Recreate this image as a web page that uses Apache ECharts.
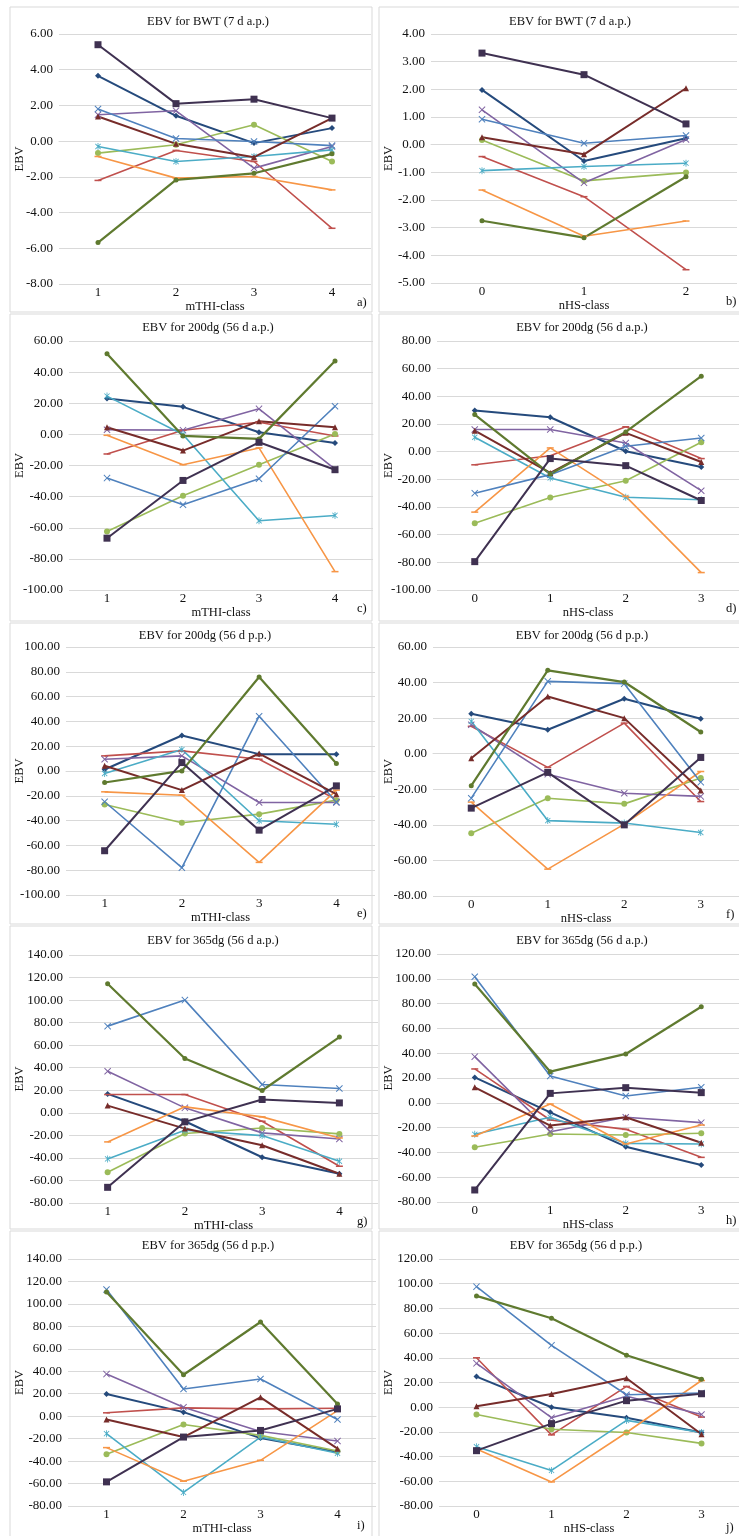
<!DOCTYPE html>
<html>
<head>
<meta charset="utf-8">
<script src="https://cdn.jsdelivr.net/npm/echarts@6/dist/echarts.min.js"></script>
<style>
  body { margin: 0; background: #fff; }
  #main { width: 739px; height: 1536px; }
</style>
</head>
<body>
<div id="main"></div>
<script>
// x categories
var thiClasses = ['1', '2', '3', '4'];
var hsClasses3 = ['0', '1', '2'];
var hsClasses4 = ['0', '1', '2', '3'];

// line order: navy, red, lightGreen, purple, cyan, orange, steelBlue, darkRed, darkGreen, darkPurple
var lineNames = ['navy', 'red', 'lightGreen', 'purple', 'cyan', 'orange', 'steelBlue', 'darkRed', 'darkGreen', 'darkPurple'];

// a) EBV for BWT (7 d a.p.) by mTHI-class
var bwtApThi = [
  [3.66, 1.42, -0.11, 0.73],
  [-2.2, -0.52, -1.14, -4.88],
  [-0.67, -0.2, 0.92, -1.14],
  [1.48, 1.7, -1.51, -0.3],
  [-0.3, -1.14, -0.86, -0.49],
  [-0.86, -2.07, -1.98, -2.73],
  [1.8, 0.15, -0.02, -0.25],
  [1.38, -0.15, -0.9, 1.29],
  [-5.68, -2.17, -1.8, -0.71],
  [5.4, 2.1, 2.35, 1.29]
];
// b) EBV for BWT (7 d a.p.) by nHS-class
var bwtApHs = [
  [1.98, -0.59, 0.23],
  [-0.43, -1.88, -4.52],
  [0.17, -1.31, -1.01],
  [1.26, -1.38, 0.19],
  [-0.94, -0.79, -0.67],
  [-1.64, -3.31, -2.76],
  [0.92, 0.05, 0.33],
  [0.27, -0.35, 2.04],
  [-2.75, -3.36, -1.16],
  [3.31, 2.53, 0.75]
];
// c) EBV for 200dg (56 d a.p.) by mTHI-class
var d200ApThi = [
  [23.1, 17.7, 1.4, -5.5],
  [-12.6, 2.7, 7.8, -1],
  [-62.4, -39.4, -19.5, 0.3],
  [3, 2.7, 16.4, -22.3],
  [24.6, -0.1, -55.5, -52.1],
  [-0.6, -19.5, -8.7, -88.2],
  [-28.1, -45.2, -28.5, 18.1],
  [4.6, -10.4, 8.5, 4.6],
  [51.8, -1, -2.9, 47.1],
  [-66.7, -29.6, -5.1, -22.7]
];
// d) EBV for 200dg (56 d a.p.) by nHS-class
var d200ApHs = [
  [29.7, 24.9, 0.3, -11.1],
  [-9.5, -3, 18, -5],
  [-51.7, -33.1, -21, 6.8],
  [16, 16, 6.3, -28.2],
  [10.4, -19, -33, -34.8],
  [-43.7, 2.7, -32.3, -87.4],
  [-30, -16.6, 3.9, 9.9],
  [15.2, -15.4, 13.6, -7.5],
  [26.8, -16.2, 14.3, 54.6],
  [-79.5, -5, -10.1, -35.3]
];
// e) EBV for 200dg (56 d p.p.) by mTHI-class
var d200PpThi = [
  [1.2, 28.6, 13.6, 13.6],
  [12.2, 16.2, 9.5, -23],
  [-27, -41.7, -34.8, -23.5],
  [9.5, 12.2, -25.4, -25.4],
  [-2, 17.3, -40.1, -43],
  [-16.8, -19.5, -73.7, -15.4],
  [-24.8, -78, 44.2, -25],
  [4.2, -15.4, 14.1, -18.7],
  [-9.3, 0.1, 75.8, 6],
  [-64.3, 6.8, -47.7, -12]
];
// f) EBV for 200dg (56 d p.p.) by nHS-class
var d200PpHs = [
  [22.5, 13.5, 30.9, 19.7],
  [15.4, -7.7, 17.2, -26.9],
  [-44.7, -25, -28.2, -13.7],
  [16.3, -11.5, -22.2, -24],
  [18.2, -37.6, -39, -44.3],
  [-27.2, -64.9, -39.6, -10],
  [-25, 40.7, 39.4, -16],
  [-2.5, 32.2, 20, -20.7],
  [-18, 46.9, 40.3, 12.2],
  [-30.6, -10.5, -40, -2.1]
];
// g) EBV for 365dg (56 d a.p.) by mTHI-class
var d365ApThi = [
  [16.8, -7.5, -39.4, -54],
  [16.2, 16.2, -7.5, -47.4],
  [-52.8, -18.4, -13.4, -18.7],
  [36.9, 4.4, -17.8, -23.2],
  [-40.9, -15.5, -20.2, -43],
  [-25.8, 5.3, -3.6, -22.3],
  [76.9, 100, 25.1, 21.6],
  [6.4, -14, -28.8, -54],
  [114.5, 48.2, 19.8, 67.2],
  [-66.1, -8, 11.8, 8.8]
];
// h) EBV for 365dg (56 d a.p.) by nHS-class
var d365ApHs = [
  [20.5, -7.7, -35.4, -50.2],
  [27.3, -13.9, -21.4, -44],
  [-35.9, -25.2, -26, -24.6],
  [37.2, -23.3, -11.7, -16],
  [-25.4, -11.7, -32.7, -33.2],
  [-26.8, -1, -33.2, -17.9],
  [101.7, 21.6, 5.5, 12.5],
  [12.5, -18.4, -11.7, -32.2],
  [95.8, 25.1, 39.4, 77.5],
  [-70.3, 7.6, 12.2, 8.2]
];
// i) EBV for 365dg (56 d p.p.) by mTHI-class
var d365PpThi = [
  [19.8, 3.6, -19.5, -31.9],
  [3, 7.4, 6.5, 7.1],
  [-34, -7.4, -17.1, -31],
  [37.5, 8, -13.6, -22.1],
  [-15.6, -67.9, -18.6, -33],
  [-28, -57.9, -39.3, 5],
  [112.8, 24.2, 33.1, -2.9],
  [-3, -18.6, 16.8, -28.9],
  [110.5, 36.9, 83.9, 10.9],
  [-58.5, -18.6, -12.7, 6.5]
];
// j) EBV for 365dg (56 d p.p.) by nHS-class
var d365PpHs = [
  [24.8, 0, -8.5, -20.5],
  [40, -22.4, 16.8, -8],
  [-5.9, -17.9, -20.5, -29.3],
  [35.5, -8.5, 8.8, -5.9],
  [-32, -51.2, -10.7, -20.5],
  [-33.9, -60.5, -20.5, 21.6],
  [97.6, 50.1, 10.1, 11.5],
  [0.8, 10.7, 23.5, -21.9],
  [90.1, 72, 42.1, 22.7],
  [-35.2, -13.3, 5.3, 10.9]
];

var panels = [
  { title: 'EBV for BWT (7 d a.p.)', cats: thiClasses, data: bwtApThi, xName: 'mTHI-class', tag: 'a)', min: -8, max: 6, step: 2 },
  { title: 'EBV for BWT (7 d a.p.)', cats: hsClasses3, data: bwtApHs, xName: 'nHS-class', tag: 'b)', min: -5, max: 4, step: 1 },
  { title: 'EBV for 200dg (56 d a.p.)', cats: thiClasses, data: d200ApThi, xName: 'mTHI-class', tag: 'c)', min: -100, max: 60, step: 20 },
  { title: 'EBV for 200dg (56 d a.p.)', cats: hsClasses4, data: d200ApHs, xName: 'nHS-class', tag: 'd)', min: -100, max: 80, step: 20 },
  { title: 'EBV for 200dg (56 d p.p.)', cats: thiClasses, data: d200PpThi, xName: 'mTHI-class', tag: 'e)', min: -100, max: 100, step: 20 },
  { title: 'EBV for 200dg (56 d p.p.)', cats: hsClasses4, data: d200PpHs, xName: 'nHS-class', tag: 'f)', min: -80, max: 60, step: 20 },
  { title: 'EBV for 365dg (56 d a.p.)', cats: thiClasses, data: d365ApThi, xName: 'mTHI-class', tag: 'g)', min: -80, max: 140, step: 20 },
  { title: 'EBV for 365dg (56 d a.p.)', cats: hsClasses4, data: d365ApHs, xName: 'nHS-class', tag: 'h)', min: -80, max: 120, step: 20 },
  { title: 'EBV for 365dg (56 d p.p.)', cats: thiClasses, data: d365PpThi, xName: 'mTHI-class', tag: 'i)', min: -80, max: 140, step: 20 },
  { title: 'EBV for 365dg (56 d p.p.)', cats: hsClasses4, data: d365PpHs, xName: 'nHS-class', tag: 'j)', min: -80, max: 120, step: 20 }
];

var boxes = [
  { x0: 0, left: 59, top: 34, width: 312, height: 250, tx: 208, ty: 22 },
  { x0: 369, left: 431, top: 34, width: 306, height: 249, tx: 570, ty: 22 },
  { x0: 0, left: 69, top: 341, width: 304, height: 249, tx: 208, ty: 328 },
  { x0: 369, left: 437, top: 341, width: 302, height: 249, tx: 582, ty: 328 },
  { x0: 0, left: 66, top: 647, width: 309, height: 248, tx: 205, ty: 636 },
  { x0: 369, left: 433, top: 647, width: 306, height: 249, tx: 582, ty: 636 },
  { x0: 0, left: 69, top: 955, width: 309, height: 248, tx: 213, ty: 941 },
  { x0: 369, left: 437, top: 954, width: 302, height: 248, tx: 582, ty: 941 },
  { x0: 0, left: 68, top: 1259, width: 308, height: 248, tx: 208, ty: 1246 },
  { x0: 369, left: 439, top: 1259, width: 300, height: 250, tx: 576, ty: 1246 }
];
var rowTops = [7, 314, 623, 926, 1231];
var rowBottoms = [312, 621, 924, 1229, 1545];

var xShape = 'path://M0,1L1,0L5,4L9,0L10,1L6,5L10,9L9,10L5,6L1,10L0,9L4,5Z';
var starShape = 'path://M0,1L1,0L5,4L9,0L10,1L6,5L10,9L9,10L5,6L1,10L0,9L4,5ZM4.3,-1L5.7,-1L5.7,11L4.3,11Z';
var dashShape = 'path://M0,0L10,0L10,2.2L0,2.2Z';

var lineLooks = {
  navy:       { color: '#254a7c', symbol: 'diamond', size: 6, width: 2 },
  red:        { color: '#c0504d', symbol: dashShape, size: 7, width: 1.6 },
  lightGreen: { color: '#9bbb59', symbol: 'circle', size: 6, width: 1.6 },
  purple:     { color: '#8064a2', symbol: xShape, size: 7, width: 1.6 },
  cyan:       { color: '#4bacc6', symbol: starShape, size: 7, width: 1.6 },
  orange:     { color: '#f79646', symbol: dashShape, size: 7, width: 1.6 },
  steelBlue:  { color: '#4f81bd', symbol: xShape, size: 7, width: 1.6 },
  darkRed:    { color: '#772c2a', symbol: 'triangle', size: 6, width: 2 },
  darkGreen:  { color: '#5f7a2f', symbol: 'circle', size: 5, width: 2.2 },
  darkPurple: { color: '#3f3151', symbol: 'rect', size: 7, width: 2 }
};

var font = 'Liberation Serif';
var grids = [], xAxes = [], yAxes = [], series = [], graphics = [];

// panel frames
for (var r = 0; r < rowTops.length; r++) {
  graphics.push({ type: 'rect', shape: { x: 10, y: rowTops[r], width: 362, height: rowBottoms[r] - rowTops[r] },
    style: { fill: null, stroke: '#d9d9d9', lineWidth: 1 }, z: -1 });
  graphics.push({ type: 'rect', shape: { x: 379, y: rowTops[r], width: 370, height: rowBottoms[r] - rowTops[r] },
    style: { fill: null, stroke: '#d9d9d9', lineWidth: 1 }, z: -1 });
}

panels.forEach(function (p, i) {
  var b = boxes[i];
  grids.push({ left: b.left, top: b.top, width: b.width, height: b.height });
  xAxes.push({
    type: 'category', gridIndex: i, data: p.cats, boundaryGap: true,
    name: p.xName, nameLocation: 'middle', nameGap: 16, nameMoveOverlap: false,
    nameTextStyle: { fontFamily: font, fontSize: 12.5, color: '#111' },
    axisLine: { lineStyle: { color: '#d9d9d9' } },
    axisTick: { show: false },
    axisLabel: { fontFamily: font, fontSize: 13, color: '#111', margin: 2 }
  });
  yAxes.push({
    type: 'value', gridIndex: i, min: p.min, max: p.max, interval: p.step,
    // keep EBV where the figure has it, even next to wide tick labels
    name: 'EBV', nameLocation: 'middle', nameGap: b.left - b.x0 - 26, nameMoveOverlap: false,
    nameTextStyle: { fontFamily: font, fontSize: 12.5, color: '#111' },
    axisLine: { show: false }, axisTick: { show: false },
    splitLine: { lineStyle: { color: '#d9d9d9' } },
    axisLabel: { fontFamily: font, fontSize: 13, color: '#111', margin: 6,
      formatter: function (v) { return v.toFixed(2); } }
  });
  p.data.forEach(function (vals, k) {
    var look = lineLooks[lineNames[k]];
    series.push({
      name: lineNames[k], type: 'line', xAxisIndex: i, yAxisIndex: i, data: vals,
      symbol: look.symbol, symbolSize: look.size, symbolKeepAspect: true, showAllSymbol: true,
      lineStyle: { color: look.color, width: look.width },
      itemStyle: { color: look.color }
    });
  });
  graphics.push({ type: 'text', x: b.tx, y: b.ty,
    style: { text: p.title, fontFamily: font, fontSize: 12.5, fill: '#111', textAlign: 'center', textVerticalAlign: 'middle' } });
  graphics.push({ type: 'text', x: b.x0 + 357, y: b.top + b.height + 19,
    style: { text: p.tag, fontFamily: font, fontSize: 12.5, fill: '#111', textAlign: 'left', textVerticalAlign: 'middle' } });
});

var myChart = echarts.init(document.getElementById('main'));
var option = {
  animation: false,
  backgroundColor: '#fff',
  grid: grids,
  xAxis: xAxes,
  yAxis: yAxes,
  series: series,
  graphic: graphics
};
myChart.setOption(option);
</script>
</body>
</html>
